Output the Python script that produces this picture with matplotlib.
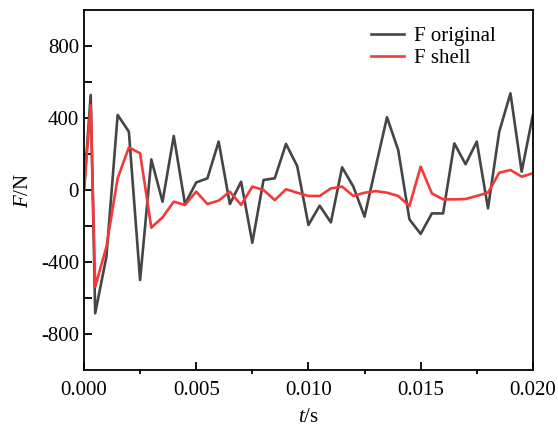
import matplotlib
matplotlib.use("Agg")
import matplotlib.pyplot as plt
from matplotlib.ticker import MultipleLocator, FixedLocator

# time axis (s): first two samples, then every 0.5 ms up to 20 ms
t_start = [0.0, 0.0003]
t_step = [round(0.0005 * i, 4) for i in range(1, 41)]
t = t_start + t_step

# force (N)
f_original = [0, 528,
              -685, -370, 417, 324, -500, 170, -65, 300, -78, 42,
              65, 269, -78, 46, -293, 56, 65, 256, 133, -194,
              -87, -180, 126, 19, -148, 130, 404, 222, -163, -244,
              -130, -130, 259, 143, 269, -102, 324, 537, 102, 417]
f_shell = [0, 470,
           -537, -315, 65, 237, 204, -209, -152, -65, -83, -9,
           -78, -59, -9, -83, 19, 0, -56, 4, -15, -33,
           -33, 9, 19, -33, -15, -6, -15, -33, -89, 130,
           -19, -52, -52, -50, -33, -15, 96, 111, 74, 93]

plt.rcParams['font.family'] = ['Liberation Serif', 'DejaVu Serif']
plt.rcParams['mathtext.fontset'] = 'custom'
plt.rcParams['mathtext.it'] = 'Liberation Serif:italic'
plt.rcParams['mathtext.rm'] = 'Liberation Serif'
plt.rcParams['axes.unicode_minus'] = False

fig = plt.figure(figsize=(5.58, 4.28), dpi=100)
ax = fig.add_axes([0.1505, 0.1355, 0.8045, 0.8411])

ax.plot(t, f_original, color='#454545', lw=1.9, label='F original')
ax.plot(t, f_shell, color='#f23a3a', lw=1.9, label='F shell')

ax.set_xlim(0, 0.020)
ax.set_ylim(-1000, 1000)

ax.xaxis.set_major_locator(MultipleLocator(0.005))
ax.xaxis.set_minor_locator(FixedLocator([0.0025, 0.0075, 0.0125, 0.0175]))
ax.yaxis.set_major_locator(FixedLocator([-800, -400, 0, 400, 800]))
ax.yaxis.set_minor_locator(FixedLocator([-600, -200, 200, 600]))
ax.xaxis.set_major_formatter(plt.FuncFormatter(lambda v, p: f"{v:.3f}"))

ax.tick_params(axis='x', which='major', direction='in', length=6, width=1.3,
               labelsize=15, pad=8, top=False)
ax.tick_params(axis='x', which='minor', direction='out', length=3, width=1.3,
               top=False)
ax.tick_params(axis='y', which='major', direction='in', length=6, width=1.3,
               labelsize=15, right=False)
ax.tick_params(axis='y', which='minor', direction='in', length=6, width=1.3,
               right=False)

for s in ax.spines.values():
    s.set_linewidth(1.3)

ax.set_xlabel('$t$/s', fontsize=15, labelpad=6)
ax.set_ylabel('$F$/N', fontsize=15, labelpad=6)

ax.legend(loc='upper right', frameon=False, fontsize=15, handlelength=1.6,
          handletextpad=0.5, labelspacing=0.1, borderaxespad=0.4,
          bbox_to_anchor=(0.955, 1.0))

fig.savefig('out.png', dpi=100)
